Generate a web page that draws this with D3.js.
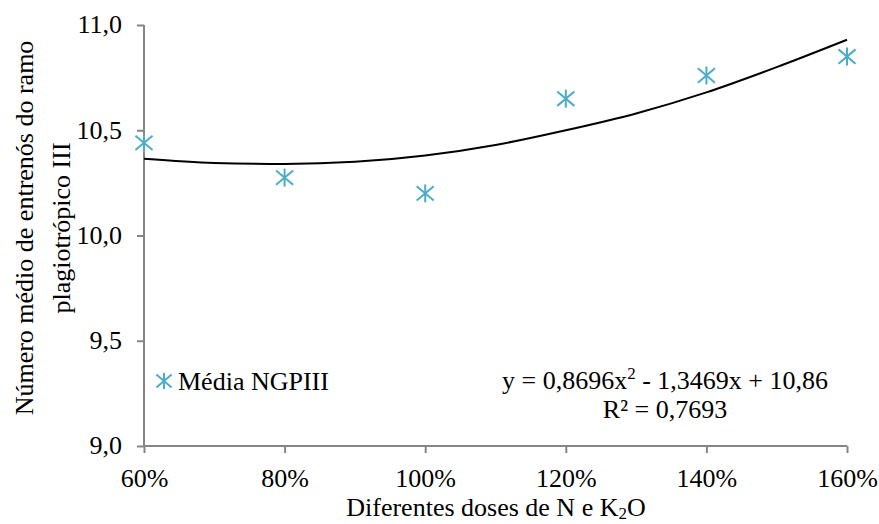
<!DOCTYPE html>
<html><head><meta charset="utf-8">
<script src="https://cdn.jsdelivr.net/npm/d3@7"></script>
<style>
html,body{margin:0;padding:0;background:#fff;}
svg text{font-family:'Liberation Serif','Times New Roman',serif !important;fill:#000;}
</style></head>
<body><svg id="c" width="879" height="524" style="font-family:'Liberation Serif',serif"></svg>
<script>
const doses = [0.6, 0.8, 1.0, 1.2, 1.4, 1.6];
const media = [10.44, 10.275, 10.20, 10.65, 10.76, 10.85];
const trendX = [0.6, 0.7, 0.8, 0.9, 1.0, 1.1, 1.2, 1.3, 1.4, 1.5, 1.6];
const trendY = [10.365, 10.345, 10.34, 10.35, 10.38, 10.43, 10.50, 10.58, 10.68, 10.80, 10.93];
const yTicks = [9.0, 9.5, 10.0, 10.5, 11.0];
const xTicks = [0.6, 0.8, 1.0, 1.2, 1.4, 1.6];
const seriesName = "Média NGPIII";
const eqLine1 = ["y = 0,8696x", "2", " - 1,3469x + 10,86"];
const eqLine2 = "R² = 0,7693";
const yTitle = ["Número médio de entrenós do ramo", "plagiotrópico III"];
const xTitle = ["Diferentes doses de N e K", "2", "O"];

const FONT = "Liberation Serif";
const svg = d3.select("#c");
const x = d3.scaleLinear().domain([0.6, 1.6]).range([144, 847]);
const y = d3.scaleLinear().domain([9, 11]).range([446, 25]);
const axisColor = "#868686";
const fs = 26;

// y axis
const ya = svg.append("g").attr("transform", "translate(144,0)")
  .call(d3.axisLeft(y).tickValues(yTicks).tickSize(7).tickPadding(15)
    .tickFormat(d => d3.format(".1f")(d).replace(".", ",")));
ya.attr("font-family", FONT);
ya.select(".domain").attr("stroke", axisColor).attr("stroke-width", 2).attr("d", "M0,25V446");
ya.selectAll(".tick line").attr("stroke", axisColor).attr("stroke-width", 2);
ya.selectAll(".tick text").attr("font-size", fs).attr("font-family", FONT).attr("fill", "#000").attr("dy", "0.3em");

// x axis
const xa = svg.append("g").attr("transform", "translate(0,446)")
  .call(d3.axisBottom(x).tickValues(xTicks).tickSize(7).tickPadding(16)
    .tickFormat(d => Math.round(d * 100) + "%"));
xa.attr("font-family", FONT);
xa.select(".domain").attr("stroke", axisColor).attr("stroke-width", 2).attr("d", "M144,0H847");
xa.selectAll(".tick line").attr("stroke", axisColor).attr("stroke-width", 2);
xa.selectAll(".tick text").attr("font-size", fs).attr("font-family", FONT).attr("fill", "#000");

// trendline
const line = d3.line().x((d, i) => x(trendX[i])).y(d => y(d)).curve(d3.curveMonotoneX);
svg.append("path").datum(trendY).attr("d", line)
  .attr("fill", "none").attr("stroke", "#000").attr("stroke-width", 2);

// markers
function star(g, cx, cy, r) {
  const c = "#4bacc6";
  g.append("line").attr("x1", cx).attr("x2", cx).attr("y1", cy - r).attr("y2", cy + r).attr("stroke", c).attr("stroke-width", 2);
  g.append("line").attr("x1", cx - r * 0.95).attr("x2", cx + r * 0.95).attr("y1", cy - r * 0.8).attr("y2", cy + r * 0.8).attr("stroke", c).attr("stroke-width", 2);
  g.append("line").attr("x1", cx - r * 0.95).attr("x2", cx + r * 0.95).attr("y1", cy + r * 0.8).attr("y2", cy - r * 0.8).attr("stroke", c).attr("stroke-width", 2);
}
const mg = svg.append("g");
doses.forEach((d, i) => star(mg, x(d), y(media[i]), 9));

// legend
star(svg.append("g"), 164, 381, 8);
svg.append("text").attr("x", 178).attr("y", 390).attr("font-family", FONT).attr("font-size", fs).text(seriesName);

// equation
const eq = svg.append("text").attr("x", 665).attr("y", 389).attr("text-anchor", "middle").attr("font-family", FONT).attr("font-size", fs);
eq.append("tspan").text(eqLine1[0]);
eq.append("tspan").attr("font-size", 17).attr("dy", -10).text(eqLine1[1]);
eq.append("tspan").attr("dy", 10).text(eqLine1[2]);
svg.append("text").attr("x", 665).attr("y", 418).attr("text-anchor", "middle").attr("font-family", FONT).attr("font-size", fs).text(eqLine2);

// x title
const xt = svg.append("text").attr("x", 496).attr("y", 516).attr("text-anchor", "middle").attr("font-family", FONT).attr("font-size", fs);
xt.append("tspan").text(xTitle[0]);
xt.append("tspan").attr("font-size", 17).attr("dy", 3).text(xTitle[1]);
xt.append("tspan").attr("dy", -3).text(xTitle[2]);

// y title
const yt = svg.append("text").attr("transform", "translate(0,228) rotate(-90)").attr("text-anchor", "middle").attr("font-family", FONT).attr("font-size", fs);
yt.append("tspan").attr("x", 0).attr("y", 33).text(yTitle[0]);
yt.append("tspan").attr("x", 0).attr("y", 70).text(yTitle[1]);
</script></body></html>
